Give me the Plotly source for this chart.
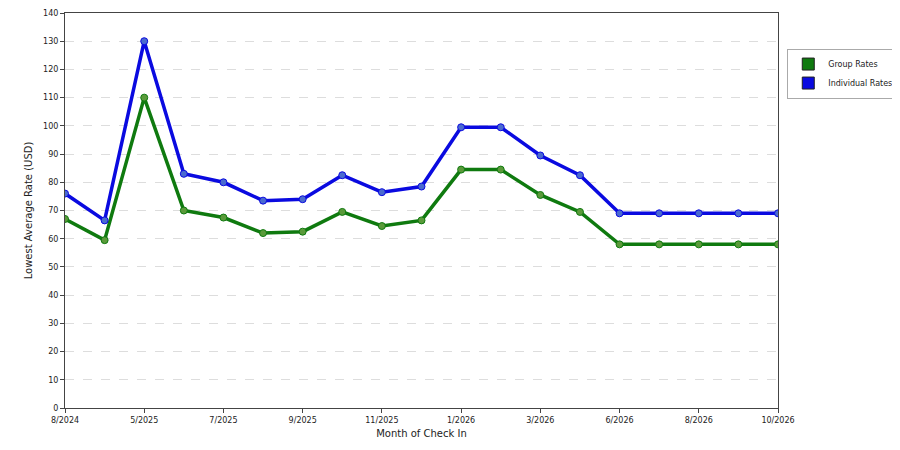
import plotly.graph_objects as go

months = ['8/2024', '4/2025', '5/2025', '6/2025', '7/2025', '8/2025', '9/2025', '10/2025',
          '11/2025', '12/2025', '1/2026', '2/2026', '3/2026', '5/2026', '6/2026', '7/2026',
          '8/2026', '9/2026', '10/2026']
group_rates = [67, 59.5, 110, 70, 67.5, 62, 62.5, 69.5, 64.5, 66.5, 84.5, 84.5, 75.5, 69.5,
               58, 58, 58, 58, 58]
individual_rates = [76, 66.5, 130, 83, 80, 73.5, 74, 82.5, 76.5, 78.5, 99.5, 99.5, 89.5, 82.5,
                    69, 69, 69, 69, 69]
tick_labels = months[::2]

x = list(range(len(months)))
fig = go.Figure()
for name, vals, line_c, mark_c in [('Group Rates', group_rates, '#0f7a0f', '#5a9a3a'),
                                   ('Individual Rates', individual_rates, '#0a0ae0', '#4a6ad0')]:
    fig.add_trace(go.Scatter(
        x=x, y=vals, mode='lines+markers', showlegend=False,
        line=dict(color=line_c, width=3.5),
        marker=dict(size=7, color=mark_c, line=dict(color=line_c, width=1)),
    ))
    # square swatch for the legend
    fig.add_trace(go.Scatter(
        x=[None], y=[None], name=name, mode='markers',
        marker=dict(symbol='square', size=12, color=line_c, line=dict(color='#222', width=1)),
    ))

fig.update_layout(
    width=900, height=450,
    margin=dict(l=57, r=130, t=5, b=50, autoexpand=False),
    plot_bgcolor='white', paper_bgcolor='white',
    font=dict(family='DejaVu Sans', size=8, color='#222'),
    showlegend=True,
    legend=dict(x=1.013, y=0.91, xanchor='left', yanchor='top',
                bordercolor='#aaa', borderwidth=1, font=dict(size=8),
                itemwidth=30, tracegroupgap=4),
    xaxis=dict(range=[0, len(months) - 1], tickvals=x[::2], ticktext=tick_labels,
               showgrid=False, showline=True, linecolor='#444', mirror=True,
               ticks='outside', ticklen=4, tickcolor='#444', automargin=False,
               title=dict(text='Month of Check In', standoff=6)),
    yaxis=dict(range=[0, 140], dtick=10, showgrid=True, gridcolor='#ddd', griddash='dash',
               showline=True, linecolor='#444', mirror=True, ticks='outside', ticklen=4,
               tickcolor='#444', zeroline=False, automargin=False,
               title=dict(text='Lowest Average Rate (USD)', standoff=8)),
)
fig.write_html("out.html")
